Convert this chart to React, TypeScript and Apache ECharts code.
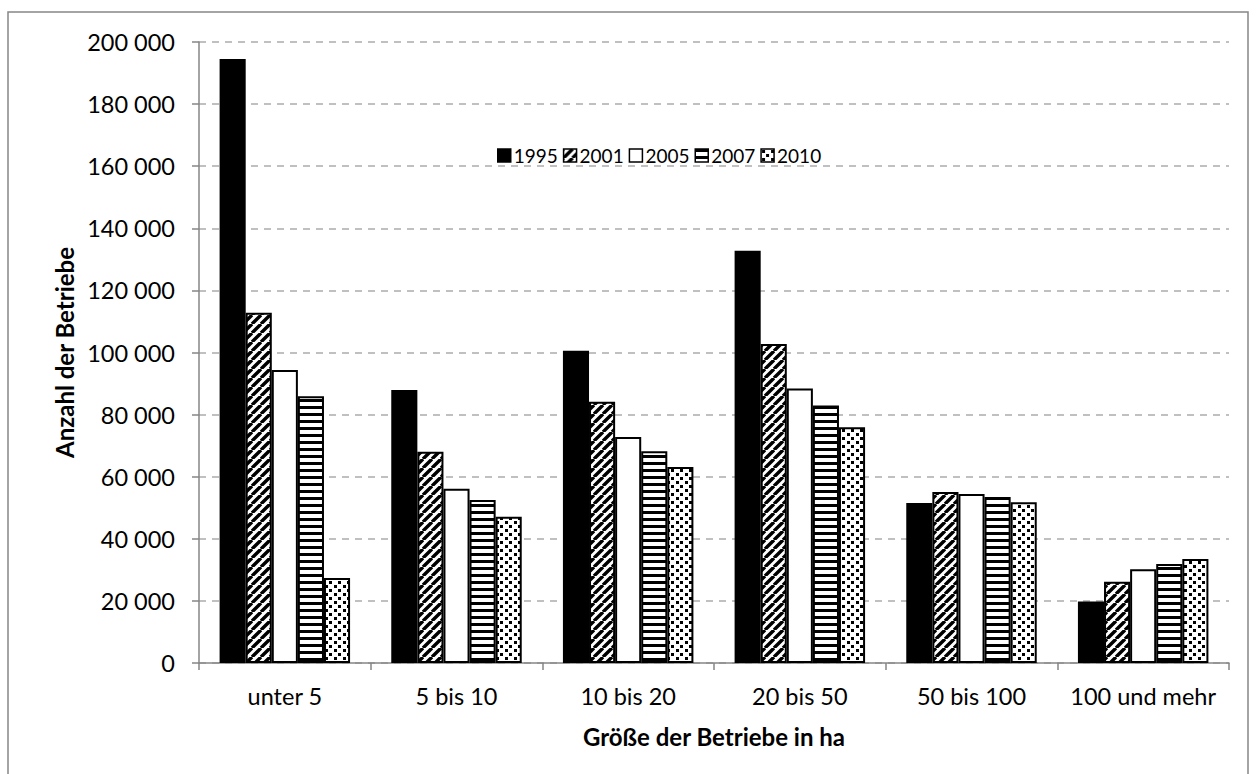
import React, { useEffect, useRef } from "react";
import * as echarts from "echarts";

const categories = ["unter 5", "5 bis 10", "10 bis 20", "20 bis 50", "50 bis 100", "100 und mehr"];
const years = ["1995", "2001", "2005", "2007", "2010"];
const s1995 = [194500, 87900, 100600, 132800, 51500, 19800];
const s2001 = [112800, 68000, 84100, 102700, 55100, 26200];
const s2005 = [94400, 56100, 72800, 88400, 54400, 30200];
const s2007 = [85900, 52500, 68200, 82900, 53500, 31900];
const s2010 = [27400, 47100, 63100, 75900, 51800, 33500];
const seriesValues = [s1995, s2001, s2005, s2007, s2010];
const yMin = 0;
const yMax = 200000;
const yInterval = 20000;

function makeTile(kind: string): any {
  if (kind === "solid") return "#000000";
  if (kind === "white") return "#ffffff";
  const c = document.createElement("canvas");
  const ctx = c.getContext("2d") as CanvasRenderingContext2D;
  if (kind === "diag") {
    const s = 9;
    c.width = s;
    c.height = s;
    ctx.fillStyle = "#fff";
    ctx.fillRect(0, 0, s, s);
    ctx.strokeStyle = "#000";
    ctx.lineWidth = 3.4;
    ctx.beginPath();
    for (let k = -1; k <= 1; k++) {
      ctx.moveTo(k * s, s);
      ctx.lineTo(k * s + s, 0);
    }
    ctx.stroke();
  } else if (kind === "horiz") {
    c.width = 8;
    c.height = 7;
    ctx.fillStyle = "#fff";
    ctx.fillRect(0, 0, 8, 7);
    ctx.fillStyle = "#000";
    ctx.fillRect(0, 0, 8, 3);
  } else if (kind === "dots") {
    c.width = 9;
    c.height = 8;
    ctx.fillStyle = "#fff";
    ctx.fillRect(0, 0, 9, 8);
    ctx.fillStyle = "#000";
    ctx.fillRect(1, 1, 3, 3);
    ctx.fillRect(5, 5, 3, 3);
  }
  return { image: c, repeat: "repeat" };
}

const kinds = ["solid", "diag", "white", "horiz", "dots"];

const fmt = (v: number) => String(v).replace(/\B(?=(\d{3})+(?!\d))/g, " ");

export default function App() {
  const ref = useRef<HTMLDivElement>(null);
  useEffect(() => {
    if (!ref.current) return;
    const chart = echarts.init(ref.current, undefined, { renderer: "svg" });
    const font = "Lato, 'Open Sans', sans-serif";
    const series = years.map((y, i) => ({
      name: y,
      type: "bar",
      data: seriesValues[i],
      barGap: "0%",
      barCategoryGap: "24%",
      itemStyle: {
        color: makeTile(kinds[i]),
        borderColor: "#000",
        borderWidth: 2,
      },
    }));
    chart.setOption({
      animation: false,
      backgroundColor: "#ffffff",
      textStyle: { fontFamily: font },
      graphic: [
        {
          type: "rect",
          shape: { x: 8, y: 12, width: 1240, height: 800 },
          style: { fill: "none", stroke: "#868686", lineWidth: 1.5 },
          silent: true,
        },
      ],
      legend: {
        left: 497,
        top: 146,
        padding: 0,
        itemWidth: 13,
        itemHeight: 13,
        itemGap: 5,
        icon: "rect",
        itemStyle: { borderColor: "#000", borderWidth: 1.5 },
        textStyle: { fontFamily: font, fontSize: 19, color: "#000", padding: [0, 0, 0, -2] },
        data: years,
      },
      grid: { left: 199, right: 27, top: 42, bottom: 111, containLabel: false },
      xAxis: {
        type: "category",
        data: categories,
        name: "Größe der Betriebe in ha",
        nameLocation: "middle",
        nameGap: 61,
        nameTextStyle: { fontFamily: font, fontSize: 24, fontWeight: "bold", color: "#000" },
        axisLine: { lineStyle: { color: "#868686", width: 1.5 } },
        axisTick: { show: true, length: 7, lineStyle: { color: "#868686", width: 1.5 } },
        axisLabel: { fontFamily: font, fontSize: 23.5, color: "#000", margin: 21, interval: 0 },
        splitLine: { show: false },
      },
      yAxis: {
        type: "value",
        min: yMin,
        max: yMax,
        interval: yInterval,
        name: "Anzahl der Betriebe",
        nameLocation: "middle",
        nameGap: 121,
        nameTextStyle: { fontFamily: font, fontSize: 24, fontWeight: "bold", color: "#000" },
        axisLine: { show: true, lineStyle: { color: "#868686", width: 1.5 } },
        axisTick: { show: true, length: 7, lineStyle: { color: "#868686", width: 1.5 } },
        axisLabel: { fontFamily: font, fontSize: 23.5, color: "#000", margin: 24, formatter: (v: number) => fmt(v) },
        splitLine: { show: true, lineStyle: { color: "#c0c0c0", width: 2, type: [7, 6] } },
      },
      series,
    });
    return () => chart.dispose();
  }, []);
  return (
    <div
      ref={ref}
      style={{ position: "absolute", left: 0, top: 0, width: 1256, height: 774, background: "#fff" }}
    />
  );
}
